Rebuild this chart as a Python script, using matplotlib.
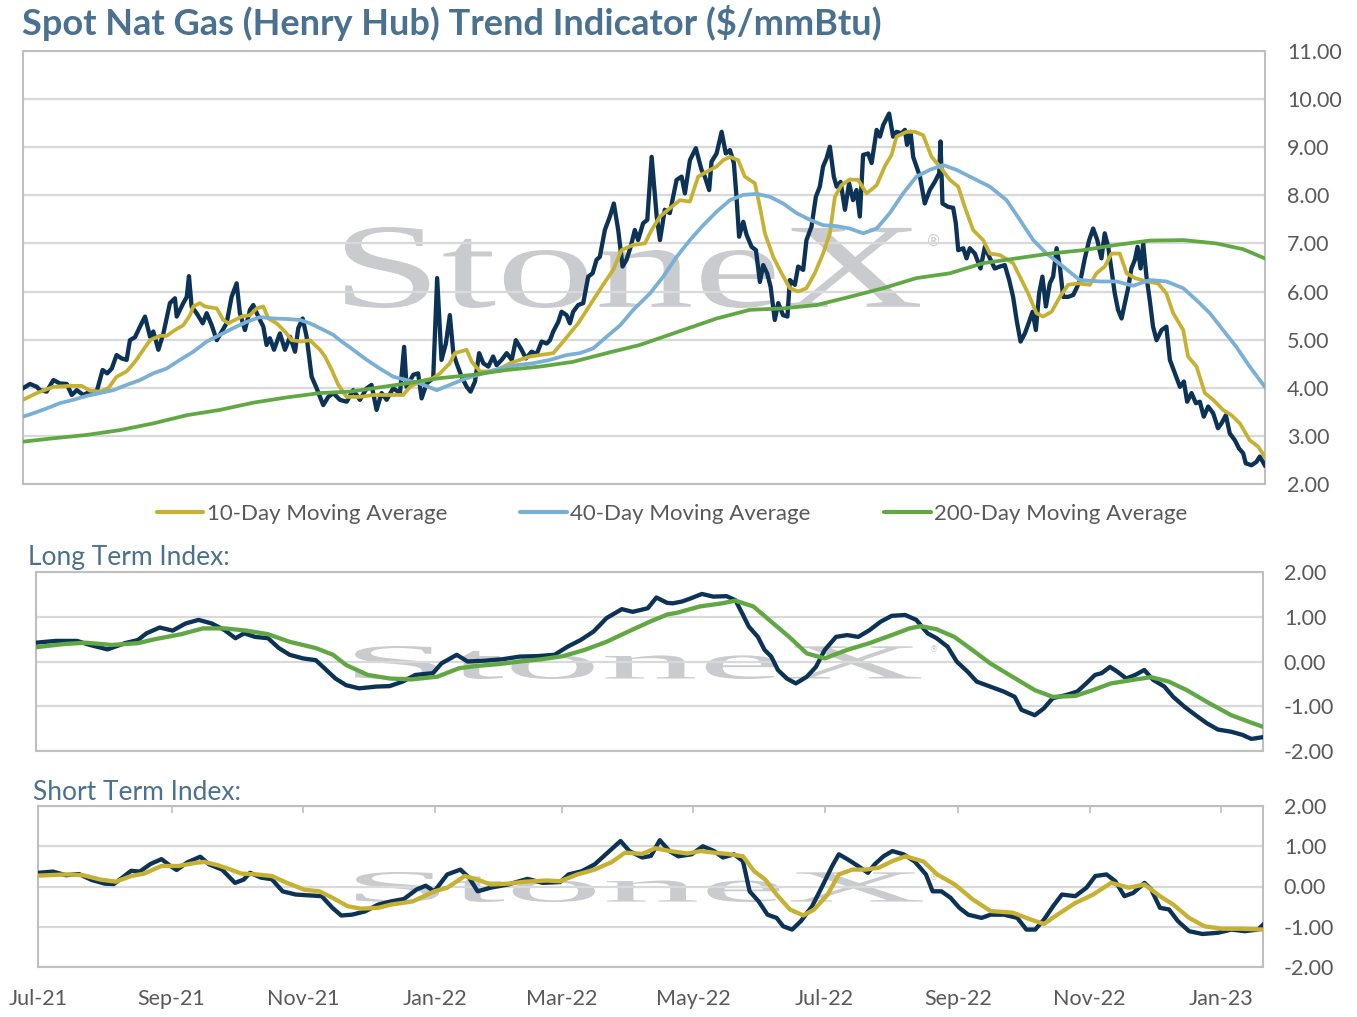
import numpy as np
import pandas as pd
import matplotlib
matplotlib.use('Agg')
from matplotlib import pyplot as plt
from matplotlib.textpath import TextPath
from matplotlib.font_manager import FontProperties
from matplotlib.patches import PathPatch
from matplotlib.lines import Line2D
from matplotlib.transforms import Affine2D

# x = days after 1 Jul 2021, y = value
start = pd.Timestamp('2021-07-01')
months = pd.date_range('2021-07-01', '2023-01-01', freq='2MS')
month_labels = [m.strftime('%b-%y') for m in months]

spot = np.array([
    [0, 3.99], [3.2, 4.08], [6.3, 4.02], [7.8, 3.95], [10.8, 3.92], [13.9, 4.16], [16.9, 4.09], [20.0, 4.08],
    [22.3, 3.85], [24.6, 3.95], [27.6, 3.85], [30.6, 3.92], [33.7, 3.92], [36.4, 4.37], [38.5, 4.30], [40.6, 4.40],
    [42.8, 4.68], [45.1, 4.61], [47.4, 4.58], [48.9, 4.99], [51.2, 5.05], [53.5, 5.27], [55.8, 5.48], [58.1, 5.06],
    [59.6, 5.17], [61.9, 4.79], [64.2, 5.13], [67.2, 5.76], [69.5, 5.86], [70.3, 5.48], [73.3, 5.76], [74.9, 5.89],
    [75.9, 6.32], [77.1, 5.69], [79.4, 5.55], [82.2, 5.34], [84.0, 5.55], [86.3, 5.30], [88.6, 4.99], [90.9, 5.17],
    [93.1, 5.34], [95.4, 5.89], [97.7, 6.17], [99.2, 5.55], [101.5, 5.20], [103.8, 5.62], [105.3, 5.72], [107.6, 5.48],
    [109.9, 5.27], [111.4, 4.89], [112.9, 5.03], [114.8, 4.79], [117.5, 5.13], [119.8, 4.79], [122.1, 5.06], [124.4, 4.75],
    [125.9, 5.24], [127.9, 5.44], [129.7, 5.06], [132.0, 4.23], [134.3, 3.99], [137.3, 3.64], [139.6, 3.81], [141.9, 3.89],
    [144.9, 3.75], [148.0, 3.71], [151.0, 3.95], [154.1, 3.75], [157.2, 3.99], [159.4, 4.06], [161.7, 3.54], [164.0, 3.89],
    [166.3, 3.75], [169.3, 3.99], [172.4, 3.89], [174.3, 4.85], [175.4, 4.02], [178.5, 4.27], [180.7, 4.30], [182.3, 3.78],
    [184.6, 4.09], [187.6, 4.20], [189.4, 6.28], [191.4, 4.58], [193.4, 4.92], [195.2, 5.51], [196.8, 4.72], [198.3, 4.51],
    [200.6, 4.23], [202.9, 4.02], [204.7, 3.92], [206.7, 4.13], [208.6, 4.72], [210.5, 4.51], [212.8, 4.44], [215.0, 4.65],
    [216.6, 4.47], [218.9, 4.58], [221.2, 4.72], [223.5, 4.58], [225.4, 4.99], [228.0, 4.79], [230.0, 4.61], [232.6, 4.75],
    [234.9, 4.70], [237.2, 4.96], [239.5, 4.92], [241.0, 4.99], [242.5, 5.17], [244.8, 5.37], [246.3, 5.58], [248.6, 5.51],
    [250.1, 5.34], [251.6, 5.58], [253.9, 5.72], [256.2, 5.76], [258.5, 6.31], [260.5, 6.38], [262.3, 6.66], [263.8, 6.72],
    [266.1, 7.28], [268.4, 7.56], [270.2, 7.83], [272.2, 7.28], [274.2, 6.52], [276.0, 6.66], [277.9, 6.93], [279.8, 7.28],
    [281.3, 7.07], [283.6, 7.42], [285.5, 7.49], [287.5, 8.80], [289.8, 7.56], [291.3, 7.07], [293.5, 7.70], [295.8, 7.63],
    [298.9, 8.32], [301.2, 8.39], [302.7, 8.04], [305.0, 8.73], [307.7, 8.98], [310.3, 8.53], [311.8, 8.39], [313.8, 8.11],
    [314.9, 8.70], [317.2, 8.87], [319.5, 9.32], [321.4, 8.87], [323.3, 8.94], [325.1, 8.67], [326.3, 7.97], [327.5, 7.14],
    [329.4, 7.45], [330.9, 7.18], [333.2, 6.93], [335.2, 6.86], [337.0, 6.20], [338.5, 6.55], [340.3, 6.38], [341.9, 6.10],
    [343.8, 5.41], [345.4, 5.76], [347.6, 5.51], [349.6, 5.48], [350.7, 6.24], [353.0, 6.14], [354.5, 6.52], [356.8, 6.45],
    [358.3, 7.07], [360.6, 7.35], [362.6, 7.97], [364.4, 8.18], [365.9, 8.60], [367.5, 8.77], [369.0, 9.01], [370.8, 8.39],
    [372.1, 8.18], [373.9, 8.28], [375.9, 7.70], [377.8, 8.25], [379.6, 7.90], [381.2, 8.11], [382.7, 7.56], [384.2, 8.84],
    [386.5, 8.87], [388.1, 8.67], [390.4, 9.36], [391.9, 9.22], [393.4, 9.46], [396.1, 9.70], [397.9, 9.22], [399.5, 9.32],
    [401.8, 9.29], [403.3, 9.36], [404.3, 9.05], [405.9, 9.32], [407.1, 8.80], [408.6, 8.60], [410.2, 8.39], [412.4, 7.83],
    [414.7, 8.11], [417.0, 8.28], [419.0, 8.46], [419.6, 9.12], [420.5, 7.83], [423.1, 7.76], [425.4, 7.74], [426.6, 7.42],
    [427.7, 6.86], [430.0, 6.90], [431.5, 6.69], [433.0, 6.90], [435.3, 6.79], [437.9, 6.48], [439.9, 6.93], [442.2, 6.69],
    [444.4, 6.48], [446.7, 6.52], [449.0, 6.55], [451.0, 6.24], [452.8, 5.89], [454.4, 5.41], [456.2, 4.96], [458.2, 5.13],
    [460.1, 5.37], [461.7, 5.58], [463.2, 5.20], [464.7, 5.96], [466.2, 6.31], [467.8, 5.69], [469.6, 6.17], [471.1, 6.31],
    [472.7, 6.90], [474.2, 6.52], [475.7, 5.89], [478.0, 5.89], [480.3, 5.93], [481.8, 6.07], [483.8, 6.28], [485.6, 6.69],
    [487.6, 7.07], [489.4, 7.31], [491.3, 7.07], [493.2, 6.69], [494.7, 7.21], [496.3, 6.93], [497.8, 6.45], [499.3, 5.96],
    [500.8, 5.62], [502.4, 5.44], [503.9, 5.76], [505.4, 6.07], [506.9, 6.48], [508.5, 6.66], [509.7, 6.93], [511.1, 6.48],
    [512.3, 7.00], [513.8, 6.31], [515.3, 5.82], [516.8, 5.27], [518.4, 4.99], [520.7, 5.20], [522.9, 5.27], [524.5, 4.58],
    [526.8, 4.30], [529.1, 4.02], [530.9, 4.13], [532.4, 3.71], [534.4, 3.89], [536.4, 3.68], [538.2, 3.71], [540.0, 3.40],
    [542.0, 3.61], [544.3, 3.47], [546.5, 3.16], [548.1, 3.26], [550.1, 3.43], [551.9, 3.05], [554.2, 2.91], [556.1, 2.74],
    [558.0, 2.64], [559.2, 2.43], [561.8, 2.39], [564.1, 2.46], [565.6, 2.57], [567.9, 2.39],
])

ma10 = np.array([
    [0, 3.75], [6.3, 3.89], [13.9, 4.02], [21.5, 4.04], [26.8, 4.04], [30.6, 3.94], [35.2, 3.92], [39.0, 3.99],
    [42.8, 4.23], [47.4, 4.34], [51.2, 4.54], [55.0, 4.79], [58.1, 4.99], [62.6, 5.08], [65.7, 5.08], [69.5, 5.20],
    [73.3, 5.30], [76.4, 5.51], [77.9, 5.69], [80.9, 5.76], [83.2, 5.69], [88.6, 5.65], [91.6, 5.41], [93.9, 5.34],
    [96.9, 5.41], [100.0, 5.48], [103.8, 5.51], [106.9, 5.65], [109.9, 5.69], [112.2, 5.44], [116.0, 5.34], [119.8, 5.17],
    [122.9, 4.99], [127.4, 4.96], [131.2, 4.99], [135.8, 4.79], [138.1, 4.65], [141.2, 4.37], [144.2, 4.06], [148.0, 3.81],
    [154.1, 3.81], [160.2, 3.85], [167.8, 3.85], [173.9, 3.85], [177.0, 4.02], [181.5, 4.13], [187.6, 4.20], [190.7, 4.30],
    [195.2, 4.51], [197.5, 4.72], [202.9, 4.79], [205.2, 4.54], [209.0, 4.34], [213.5, 4.34], [218.1, 4.40], [222.7, 4.51],
    [227.2, 4.58], [231.8, 4.65], [236.4, 4.68], [242.5, 4.72], [246.3, 4.92], [250.1, 5.13], [253.9, 5.34], [259.3, 5.72],
    [265.3, 6.14], [269.9, 6.45], [273.7, 6.86], [279.1, 6.97], [284.4, 7.00], [287.5, 7.28], [291.3, 7.56], [300.4, 7.90],
    [305.0, 7.87], [308.8, 8.39], [312.6, 8.49], [317.2, 8.60], [320.2, 8.73], [323.3, 8.80], [327.1, 8.73], [330.1, 8.39],
    [334.7, 8.25], [337.0, 7.76], [339.3, 7.21], [343.1, 6.72], [346.9, 6.38], [350.7, 6.07], [354.5, 6.00], [358.3, 6.07],
    [362.1, 6.38], [365.9, 6.79], [369.0, 7.21], [371.3, 7.97], [374.3, 8.21], [378.1, 8.33], [381.9, 8.32], [385.8, 8.04],
    [390.4, 8.21], [394.1, 8.60], [397.2, 8.84], [399.5, 9.22], [404.1, 9.32], [407.9, 9.32], [411.7, 9.25], [415.5, 8.80],
    [419.3, 8.60], [423.9, 8.32], [427.7, 8.18], [430.7, 7.76], [434.5, 7.28], [439.1, 7.07], [442.2, 6.79], [446.7, 6.76],
    [452.8, 6.59], [455.9, 6.31], [459.7, 5.96], [463.5, 5.55], [466.5, 5.48], [470.4, 5.58], [474.2, 5.89], [478.0, 6.14],
    [482.5, 6.17], [487.9, 6.14], [490.9, 6.38], [494.7, 6.52], [497.8, 6.79], [501.6, 6.79], [504.7, 6.38], [508.5, 6.28],
    [513.8, 6.21], [519.1, 6.17], [522.9, 5.96], [526.0, 5.55], [530.6, 5.20], [532.8, 4.65], [536.7, 4.44], [540.5, 3.89],
    [544.3, 3.75], [548.8, 3.54], [552.7, 3.43], [556.5, 3.26], [561.0, 2.91], [564.8, 2.78], [567.9, 2.57],
])

ma40 = np.array([
    [0, 3.40], [4.7, 3.47], [10.8, 3.57], [16.9, 3.68], [23.0, 3.75], [29.1, 3.83], [35.2, 3.89], [41.3, 3.95],
    [47.4, 4.06], [53.5, 4.16], [59.6, 4.30], [65.7, 4.40], [71.8, 4.58], [77.9, 4.75], [84.0, 4.96], [90.1, 5.10],
    [96.2, 5.24], [102.3, 5.37], [108.4, 5.47], [114.4, 5.44], [120.6, 5.43], [126.7, 5.41], [131.2, 5.34], [135.8, 5.24],
    [141.9, 5.10], [144.9, 4.99], [151.0, 4.79], [157.2, 4.58], [163.2, 4.40], [169.3, 4.23], [175.4, 4.16], [181.5, 4.09],
    [189.2, 3.95], [195.2, 4.06], [202.9, 4.20], [210.5, 4.30], [218.1, 4.40], [225.7, 4.47], [233.3, 4.51], [241.0, 4.58],
    [248.6, 4.68], [254.7, 4.72], [260.8, 4.82], [266.9, 5.06], [273.1, 5.30], [279.1, 5.62], [286.7, 5.96], [292.8, 6.31],
    [298.9, 6.72], [305.0, 7.07], [311.1, 7.38], [317.2, 7.66], [323.3, 7.90], [329.4, 8.01], [335.5, 8.03], [341.6, 7.97],
    [347.6, 7.83], [353.8, 7.63], [359.9, 7.49], [365.9, 7.38], [372.1, 7.36], [378.1, 7.31], [384.2, 7.21], [390.4, 7.31],
    [396.4, 7.63], [402.5, 8.04], [408.6, 8.39], [414.7, 8.53], [420.8, 8.63], [426.9, 8.53], [433.0, 8.39], [442.2, 8.18],
    [449.8, 7.90], [455.9, 7.49], [462.0, 7.07], [468.1, 6.79], [475.7, 6.52], [483.3, 6.24], [492.5, 6.21], [500.1, 6.21],
    [507.7, 6.12], [515.3, 6.24], [522.9, 6.21], [530.6, 6.07], [536.7, 5.82], [542.8, 5.55], [548.8, 5.20], [554.9, 4.85],
    [561.0, 4.44], [567.9, 4.02],
])

ma200 = np.array([
    [0, 2.88], [13.9, 2.95], [29.1, 3.02], [44.4, 3.12], [59.6, 3.26], [74.9, 3.43], [90.1, 3.54], [105.3, 3.69],
    [120.6, 3.80], [135.8, 3.89], [149.5, 3.92], [160.2, 3.99], [175.4, 4.09], [190.7, 4.20], [205.9, 4.27], [221.2, 4.37],
    [236.4, 4.44], [251.6, 4.54], [266.9, 4.72], [282.1, 4.89], [301.9, 5.20], [317.2, 5.44], [332.4, 5.62], [347.6, 5.65],
    [362.9, 5.72], [378.1, 5.89], [393.4, 6.07], [408.6, 6.28], [423.9, 6.38], [439.1, 6.59], [454.4, 6.69], [469.6, 6.79],
    [484.8, 6.86], [500.1, 6.97], [515.3, 7.06], [530.6, 7.07], [545.8, 7.00], [558.0, 6.88], [567.9, 6.69],
])

long_idx = np.array([
    [0, 0.42], [9.0, 0.46], [19.0, 0.46], [25.0, 0.37], [33.1, 0.27], [41.2, 0.41], [47.2, 0.48], [51.2, 0.63],
    [57.3, 0.76], [63.3, 0.69], [69.3, 0.85], [75.3, 0.93], [81.4, 0.85], [87.4, 0.70], [92.4, 0.52], [96.4, 0.63],
    [101.5, 0.55], [107.5, 0.52], [112.5, 0.30], [117.5, 0.15], [123.6, 0.07], [129.6, 0.03], [133.6, -0.15], [138.7, -0.38],
    [143.7, -0.53], [149.7, -0.60], [157.8, -0.56], [163.8, -0.55], [169.8, -0.45], [175.8, -0.30], [183.9, -0.26], [187.9, -0.04],
    [194.9, 0.15], [199.9, 0.00], [208.0, 0.02], [216.0, 0.05], [224.1, 0.11], [232.1, 0.12], [240.2, 0.15], [246.2, 0.33],
    [252.3, 0.48], [258.3, 0.67], [264.3, 0.97], [271.4, 1.17], [276.4, 1.11], [283.4, 1.19], [287.4, 1.43], [292.4, 1.31],
    [295.0, 1.30], [299.2, 1.34], [303.3, 1.41], [308.5, 1.51], [313.7, 1.45], [319.9, 1.46], [324.0, 1.37], [327.1, 1.08],
    [330.2, 0.78], [334.4, 0.55], [337.5, 0.26], [340.6, 0.11], [343.7, -0.19], [347.8, -0.38], [352.0, -0.49], [357.1, -0.34],
    [361.3, -0.12], [365.4, 0.26], [370.6, 0.55], [375.8, 0.59], [380.9, 0.55], [386.1, 0.70], [391.3, 0.89], [396.4, 1.02],
    [402.6, 1.04], [407.8, 0.93], [413.0, 0.63], [417.2, 0.52], [422.3, 0.33], [426.5, 0.00], [431.6, -0.23], [435.8, -0.45],
    [442.0, -0.56], [448.2, -0.67], [453.4, -0.79], [456.5, -1.08], [462.7, -1.20], [466.8, -1.05], [471.0, -0.82], [477.2, -0.75],
    [482.4, -0.67], [486.5, -0.49], [490.6, -0.30], [493.7, -0.26], [497.5, -0.12], [501.0, -0.23], [505.1, -0.38], [509.2, -0.30],
    [513.4, -0.19], [517.5, -0.41], [522.7, -0.56], [526.8, -0.79], [532.0, -1.01], [537.2, -1.20], [542.4, -1.38], [547.5, -1.52],
    [553.7, -1.57], [558.9, -1.64], [563.0, -1.73], [568.4, -1.69],
])

long_avg = np.array([
    [0, 0.32], [13.0, 0.39], [23.0, 0.42], [35.1, 0.37], [47.2, 0.41], [55.2, 0.50], [67.3, 0.61], [77.3, 0.74],
    [87.4, 0.74], [97.5, 0.69], [107.5, 0.61], [117.5, 0.44], [129.6, 0.30], [137.6, 0.15], [143.7, -0.08], [153.7, -0.30],
    [163.8, -0.38], [173.9, -0.40], [185.9, -0.34], [196.0, -0.15], [204.0, -0.10], [214.0, -0.06], [224.1, 0.00], [234.2, 0.05],
    [244.2, 0.12], [254.2, 0.26], [264.3, 0.44], [274.4, 0.67], [284.4, 0.89], [292.4, 1.05], [297.1, 1.09], [307.5, 1.23],
    [317.8, 1.30], [324.0, 1.36], [332.3, 1.23], [340.6, 0.89], [348.9, 0.55], [357.1, 0.18], [365.4, 0.07], [375.8, 0.26],
    [386.1, 0.41], [396.4, 0.59], [404.7, 0.74], [409.9, 0.79], [417.2, 0.72], [425.4, 0.55], [433.7, 0.26], [442.0, -0.04],
    [452.3, -0.34], [462.7, -0.64], [471.0, -0.79], [481.3, -0.77], [489.6, -0.64], [497.9, -0.49], [508.2, -0.41], [516.5, -0.35],
    [524.8, -0.45], [533.1, -0.64], [543.4, -0.93], [553.7, -1.20], [562.0, -1.35], [568.4, -1.46],
])

short_idx = np.array([
    [0, 0.34], [7.0, 0.37], [13.0, 0.28], [19.0, 0.31], [25.0, 0.16], [31.1, 0.07], [35.1, 0.06], [39.1, 0.22],
    [43.2, 0.39], [47.2, 0.37], [52.2, 0.56], [57.3, 0.68], [61.2, 0.52], [64.3, 0.41], [69.3, 0.60], [75.3, 0.74],
    [79.4, 0.55], [85.4, 0.42], [91.4, 0.09], [95.4, 0.17], [98.4, 0.34], [103.5, 0.22], [108.5, 0.18], [113.5, -0.12],
    [119.6, -0.20], [125.6, -0.22], [131.6, -0.24], [136.6, -0.53], [140.7, -0.72], [145.7, -0.70], [151.7, -0.62], [157.8, -0.45],
    [163.8, -0.37], [169.8, -0.31], [175.8, -0.07], [179.9, 0.02], [183.9, -0.12], [189.9, 0.30], [196.0, 0.42], [200.0, 0.22],
    [204.0, -0.12], [210.0, -0.03], [218.1, 0.05], [227.1, 0.19], [234.2, 0.09], [242.2, 0.11], [246.2, 0.30], [252.3, 0.38],
    [258.3, 0.55], [264.3, 0.84], [270.3, 1.13], [274.4, 0.88], [280.4, 0.72], [284.4, 0.76], [288.5, 1.15], [293.0, 0.88],
    [297.1, 0.75], [303.3, 0.80], [308.5, 1.00], [313.7, 0.88], [317.8, 0.72], [323.0, 0.80], [327.1, 0.63], [330.2, -0.12],
    [334.4, -0.37], [338.5, -0.70], [342.7, -0.78], [345.8, -0.99], [349.9, -1.07], [354.0, -0.86], [359.2, -0.49], [364.3, 0.05],
    [368.5, 0.51], [371.6, 0.80], [375.8, 0.67], [379.9, 0.53], [385.1, 0.34], [388.2, 0.55], [392.3, 0.75], [396.4, 0.88],
    [401.6, 0.80], [406.8, 0.62], [412.0, 0.30], [415.1, -0.12], [419.2, -0.12], [423.4, -0.28], [427.5, -0.53], [431.6, -0.70],
    [437.8, -0.78], [442.0, -0.70], [448.2, -0.70], [454.4, -0.78], [458.6, -1.07], [462.7, -1.07], [466.8, -0.82], [471.0, -0.49],
    [475.1, -0.20], [481.3, -0.24], [486.5, -0.03], [490.6, 0.26], [495.8, 0.30], [499.9, 0.13], [504.1, -0.24], [508.2, -0.16],
    [513.4, 0.09], [516.5, -0.07], [520.6, -0.53], [524.8, -0.57], [528.9, -0.86], [534.1, -1.11], [540.3, -1.18], [547.5, -1.15],
    [553.7, -1.07], [559.9, -1.11], [566.1, -1.07], [568.4, -0.95],
])

short_avg = np.array([
    [0, 0.27], [13.0, 0.30], [21.0, 0.28], [29.1, 0.17], [36.1, 0.12], [43.2, 0.26], [49.2, 0.32], [57.3, 0.51],
    [65.3, 0.51], [73.3, 0.59], [77.3, 0.61], [83.4, 0.53], [89.4, 0.42], [94.4, 0.32], [101.5, 0.30], [108.5, 0.26],
    [115.5, 0.09], [123.6, -0.08], [130.6, -0.12], [136.6, -0.28], [143.7, -0.49], [149.7, -0.55], [157.8, -0.53], [163.8, -0.45],
    [173.9, -0.37], [183.9, -0.12], [189.9, -0.03], [198.0, 0.26], [204.0, 0.17], [210.0, 0.05], [218.1, 0.07], [226.1, 0.12],
    [236.2, 0.15], [242.2, 0.13], [250.3, 0.30], [258.3, 0.42], [266.3, 0.61], [272.4, 0.84], [280.4, 0.81], [286.4, 0.95],
    [293.5, 0.88], [301.3, 0.82], [307.5, 0.88], [313.7, 0.84], [319.9, 0.81], [327.1, 0.75], [332.3, 0.38], [337.5, 0.17],
    [342.7, -0.20], [348.9, -0.57], [355.1, -0.72], [360.2, -0.57], [366.4, -0.20], [371.6, 0.30], [377.8, 0.42], [384.1, 0.42],
    [390.3, 0.47], [396.4, 0.63], [402.6, 0.75], [410.9, 0.62], [417.2, 0.30], [425.4, 0.05], [433.7, -0.32], [442.0, -0.61],
    [452.3, -0.65], [460.6, -0.82], [466.8, -0.93], [473.0, -0.70], [481.3, -0.41], [489.6, -0.20], [497.9, 0.09], [506.2, -0.03],
    [513.4, 0.05], [520.6, -0.24], [526.8, -0.45], [534.1, -0.78], [541.3, -0.99], [549.6, -1.05], [557.9, -1.05], [568.4, -1.07],
])

NAVY = '#0c3356'
GOLD = '#c6b132'
LBLUE = '#7aafd6'
GREEN = '#61a845'
GRID = '#d9d9d9'
FRAME = '#bfbfbf'
TXT = '#595959'
TITLE = '#4a7190'
WM = '#cacbce'
FONT = 'Lato'

W, H = 1357, 1017
fig = plt.figure(figsize=(W / 100, H / 100), dpi=100)


def px_axes(l, t, r, b):
    return fig.add_axes([l / W, 1 - b / H, (r - l) / W, (b - t) / H])


def style(ax, lo, hi, step, pad):
    ax.set_ylim(lo, hi)
    ax.set_yticks(np.arange(lo, hi + 0.001, step))
    ax.yaxis.set_major_formatter(matplotlib.ticker.FormatStrFormatter('%.2f'))
    ax.yaxis.tick_right()
    ax.tick_params(axis='y', length=0, pad=pad, labelsize=15.5, labelcolor=TXT)
    ax.grid(axis='y', color=GRID, lw=1.6)
    ax.set_axisbelow(True)
    for s in ax.spines.values():
        s.set_color(FRAME)
        s.set_linewidth(1.5)
    for lab in ax.get_yticklabels():
        lab.set_fontfamily(FONT)


def watermark(ax, box, reg_xy, reg_size):
    tp = TextPath((0, 0), 'StoneX', size=100, prop=FontProperties(family='Liberation Serif'))
    bb = tp.get_extents()
    l, t, r, b = box
    tr = (Affine2D().translate(-bb.x0, -bb.y0)
          .scale((r - l) / bb.width / W, (b - t) / bb.height / H)
          .translate(l / W, 1 - b / H))
    ax.add_patch(PathPatch(tr.transform_path(tp), fc=WM, ec='none',
                           transform=fig.transFigure, zorder=0.2))
    ax.text(reg_xy[0] / W, 1 - reg_xy[1] / H, '\u00ae', transform=fig.transFigure,
            fontsize=reg_size, color=WM, ha='center', va='center', zorder=0.2,
            family='DejaVu Sans')


# main price panel
ax1 = px_axes(23, 51, 1265, 484)
watermark(ax1, (345, 227, 920, 308), (933, 241), 11)
ax1.plot(spot[:, 0], spot[:, 1], color=NAVY, lw=3.1, zorder=3, solid_joinstyle='round')
ax1.plot(ma10[:, 0], ma10[:, 1], color=GOLD, lw=2.7, zorder=4)
ax1.plot(ma40[:, 0], ma40[:, 1], color=LBLUE, lw=2.7, zorder=4)
ax1.plot(ma200[:, 0], ma200[:, 1], color=GREEN, lw=2.7, zorder=4)
ax1.set_xlim(0, 568)
ax1.set_xticks([])
style(ax1, 2, 11, 1, 16)

fig.text(22 / W, 1 - 23 / H, 'Spot Nat Gas (Henry Hub) Trend Indicator ($/mmBtu)',
         fontsize=26, fontweight='bold', color=TITLE, family=FONT, va='center', ha='left')

handles = [Line2D([], [], color=c, lw=3, solid_capstyle='round') for c in (GOLD, LBLUE, GREEN)]
leg = fig.legend(handles, ['10-Day Moving Average', '40-Day Moving Average', '200-Day Moving Average'],
                 loc='center', bbox_to_anchor=(672 / W, 1 - 514 / H), ncol=3, frameon=False,
                 prop={'family': FONT, 'size': 16}, labelcolor=TXT, handlelength=2.1,
                 handletextpad=0.15, columnspacing=3.3)

# long term index
ax2 = px_axes(36, 572, 1263, 751)
watermark(ax2, (355, 646, 921, 679), (934, 650), 6)
ax2.plot(long_idx[:, 0], long_idx[:, 1], color=NAVY, lw=3.1, zorder=3)
ax2.plot(long_avg[:, 0], long_avg[:, 1], color=GREEN, lw=3.1, zorder=4)
ax2.set_xlim(0, 568.4)
ax2.set_xticks([])
style(ax2, -2, 2, 1, 15)
fig.text(28 / W, 1 - 558 / H, 'Long Term Index:', fontsize=19, color=TITLE, family=FONT,
         va='center', ha='left')

# short term index
ax3 = px_axes(38, 806, 1263, 967)
watermark(ax3, (356, 872, 923, 902), (934, 878), 6)
ax3.plot(short_idx[:, 0], short_idx[:, 1], color=NAVY, lw=3.1, zorder=3)
ax3.plot(short_avg[:, 0], short_avg[:, 1], color=GOLD, lw=3.1, zorder=4)
ax3.set_xlim(0, 568.4)
style(ax3, -2, 2, 1, 15)
tick_days = [(m - start).days for m in months]
ax3.set_xticks(tick_days)
ax3.set_xticklabels(month_labels, family=FONT)
ax3.tick_params(axis='x', bottom=False, top=True, labelbottom=True, labeltop=False,
                direction='in', length=5, width=1.2, color=FRAME, pad=16,
                labelsize=15.5, labelcolor=TXT)
fig.text(33 / W, 1 - 793 / H, 'Short Term Index:', fontsize=19, color=TITLE, family=FONT,
         va='center', ha='left')

fig.savefig('out.png', dpi=100)
